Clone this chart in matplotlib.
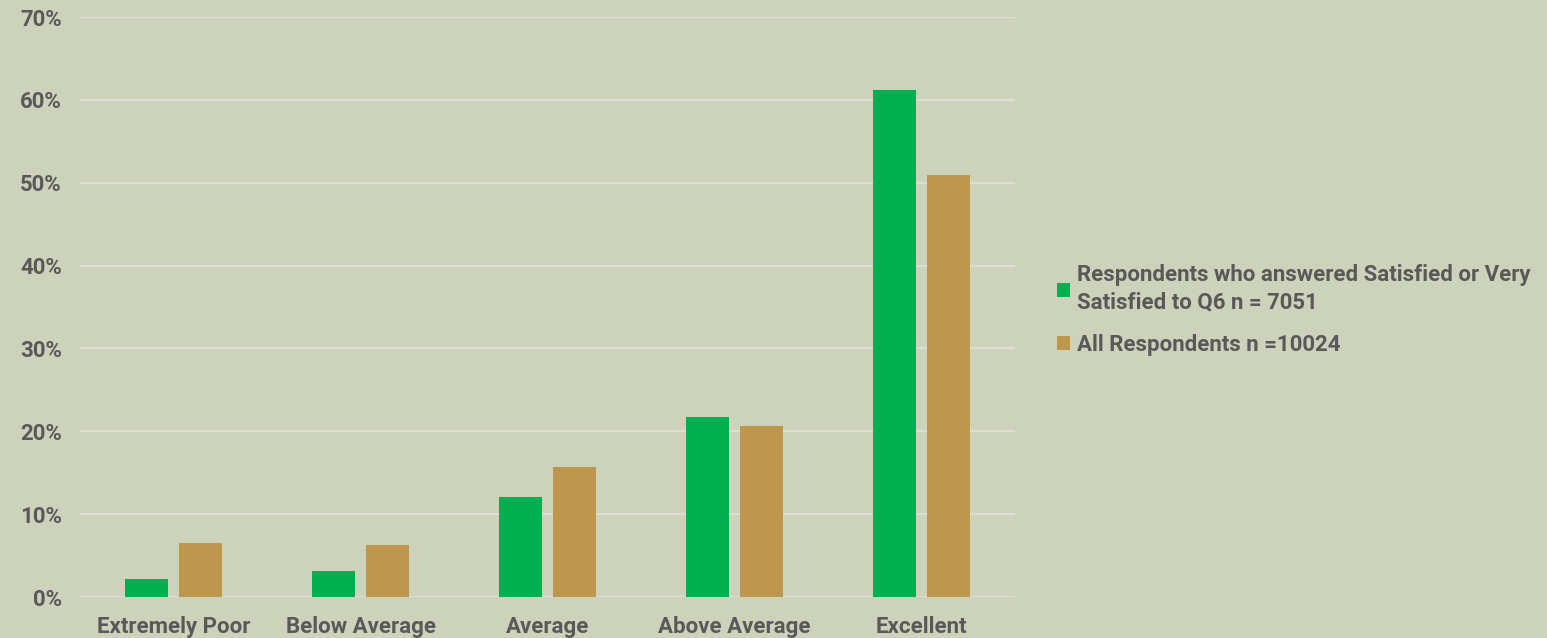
import matplotlib
matplotlib.use("Agg")
import matplotlib.pyplot as plt
from matplotlib.patches import Patch
import numpy as np

categories = ["Extremely Poor", "Below Average", "Average", "Above Average", "Excellent"]
satisfied = [2.2, 3.1, 12.1, 21.7, 61.2]
all_resp = [6.5, 6.3, 15.7, 20.6, 50.9]
series_labels = ["Respondents who answered Satisfied or Very\nSatisfied to Q6 n = 7051",
                 "All Respondents n =10024"]
yticks = [0, 10, 20, 30, 40, 50, 60, 70]

BG = "#CDD2BA"
GREEN = "#00AF50"
GOLD = "#BF964E"
TEXT = "#595959"
GRID = "#DCDDD3"
FS = 16

plt.rcParams["font.family"] = ["Roboto", "DejaVu Sans"]

fig = plt.figure(figsize=(15.47, 6.38), dpi=100, facecolor=BG)
ax = fig.add_axes([80 / 1547, 1 - 597 / 638, 935 / 1547, 580 / 638])
ax.set_facecolor(BG)

x = np.arange(len(categories))
w = 0.225
gap = 0.064
ax.bar(x - (w + gap) / 2, satisfied, width=w, color=GREEN, zorder=3)
ax.bar(x + (w + gap) / 2, all_resp, width=w, color=GOLD, zorder=3)

ax.set_xlim(-0.5, len(categories) - 0.5)
ax.set_ylim(0, 70)
ax.set_yticks(yticks)
ax.set_yticklabels([f"{v}%" for v in yticks])
ax.set_xticks(x)
ax.set_xticklabels(categories)
ax.yaxis.grid(True, color=GRID, linewidth=1.6, zorder=0)
ax.set_axisbelow(True)
for s in ax.spines.values():
    s.set_visible(False)
ax.tick_params(axis="both", length=0, colors=TEXT, labelsize=FS)
ax.tick_params(axis="y", pad=13)
ax.tick_params(axis="x", pad=14)
for lbl in ax.get_xticklabels() + ax.get_yticklabels():
    lbl.set_fontweight("bold")
    lbl.set_color(TEXT)

handles = [Patch(facecolor=GREEN), Patch(facecolor=GOLD)]
leg = fig.legend(handles, series_labels, loc="center left",
                 bbox_to_anchor=(1037 / 1547, 1 - 310 / 638),
                 frameon=False, handlelength=0.6, handleheight=0.6,
                 handletextpad=0.3, labelspacing=0.9,
                 prop={"size": FS, "weight": "bold"})
for t in leg.get_texts():
    t.set_color(TEXT)
    t.set_linespacing(1.3)

fig.savefig("out.png", dpi=100, facecolor=BG)
